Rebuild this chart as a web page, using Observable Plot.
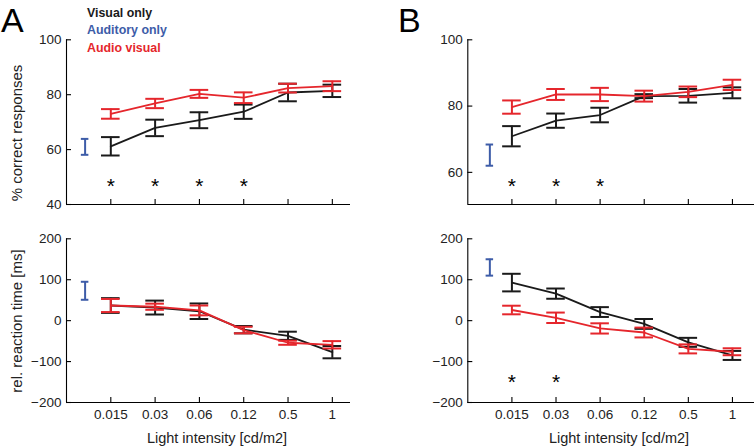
<!DOCTYPE html>
<html><head><meta charset="utf-8">
<script src="https://cdn.jsdelivr.net/npm/d3@7"></script>
<script src="https://cdn.jsdelivr.net/npm/@observablehq/plot@0.6"></script>
<style>
body{margin:0;background:#fff;}
#fig{position:relative;width:754px;height:448px;overflow:hidden;font-family:"Liberation Sans",Arial,Helvetica,sans-serif;background:#fff;}
.p{position:absolute;}
.t{position:absolute;white-space:nowrap;line-height:1;}
</style></head><body><div id="fig"></div>
<script>
// ---- data ----
const intensities = ["0.015", "0.03", "0.06", "0.12", "0.5", "1"];
const legendLabels = ["Visual only", "Auditory only", "Audio visual"];

// Panel A, % correct responses
const accA_visual = [61.2, 67.9, 70.7, 73.8, 80.8, 81.4];
const accA_visualErr = [3.35, 3.0, 2.9, 2.6, 3.2, 2.25];
const accA_av = [73.0, 76.8, 80.3, 78.9, 82.4, 83.1];
const accA_avErr = [1.75, 1.7, 1.45, 1.95, 1.6, 1.8];
const accA_aud = 61.0, accA_audErr = 2.9;
const accA_stars = ["0.015", "0.03", "0.06", "0.12"];

// Panel A, relative reaction time [ms]
const rtA_visual = [37, 32, 23, -22, -37, -77];
const rtA_visualErr = [18, 17, 19, 9, 10, 15];
const rtA_av = [37, 34, 25, -23, -54, -59];
const rtA_avErr = [16, 7.5, 12, 8, 5, 9];
const rtA_aud = 73, rtA_audErr = 22;

// Panel B, % correct responses
const accB_visual = [70.9, 75.6, 77.3, 83.0, 83.1, 84.0];
const accB_visualErr = [3.05, 2.15, 2.2, 0.6, 2.05, 1.65];
const accB_av = [79.7, 83.5, 83.5, 83.0, 84.3, 86.4];
const accB_avErr = [2.0, 1.65, 2.0, 1.65, 1.6, 1.55];
const accB_aud = 65.2, accB_audErr = 3.2;
const accB_stars = ["0.015", "0.03", "0.06"];

// Panel B, relative reaction time [ms]
const rtB_visual = [93, 66, 21, -8, -53, -85];
const rtB_visualErr = [21.5, 12.5, 12, 12, 11, 11];
const rtB_av = [26, 7, -19, -29, -69, -76];
const rtB_avErr = [10.5, 12.75, 12.5, 12, 11, 8.5];
const rtB_aud = 130, rtB_audErr = 20;
const rtB_stars = ["0.015", "0.03"];

const accTicksA = [40, 60, 80, 100];
const accTicksB = [60, 80, 100];
const rtTicks = [-200, -100, 0, 100, 200];

// ---- style ----
const C_VIS = "#1a1a1a", C_AUD = "#3d5ca8", C_AV = "#e5262c";
const FONT = '"Liberation Sans", Arial, Helvetica, sans-serif';

function rows(means, errs) {
  return means.map((m, k) => ({i: k + 1, m, lo: m - errs[k], hi: m + errs[k]}));
}
function errMarks(data, color, cap, sw) {
  return [
    Plot.ruleX(data, {x: "i", y1: "lo", y2: "hi", stroke: color, strokeWidth: sw}),
    Plot.ruleY(data, {x1: d => d.i - cap, x2: d => d.i + cap, y: "lo", stroke: color, strokeWidth: sw}),
    Plot.ruleY(data, {x1: d => d.i - cap, x2: d => d.i + cap, y: "hi", stroke: color, strokeWidth: sw})
  ];
}

function panel(o) {
  const innerW = o.width - o.mL - o.mR;
  const innerH = o.height - o.mT - o.mB;
  const vis = rows(o.vis, o.visErr);
  const av = rows(o.av, o.avErr);
  const aud = [{i: o.audX, m: o.aud, lo: o.aud - o.audErr, hi: o.aud + o.audErr}];
  const idx = intensities.map((_, k) => k + 1);
  const marks = [
    Plot.ruleX([0], {stroke: "#000", strokeWidth: 1.1}),
    Plot.ruleY([o.yDomain[0]], {stroke: "#000", strokeWidth: 1.1}),
    Plot.tickY(o.yTicks, {y: d => d, insetRight: innerW - 5, stroke: "#000", strokeWidth: 1.1}),
    Plot.tickX(idx, {x: d => d, insetTop: innerH - 5, stroke: "#000", strokeWidth: 1.1}),
    Plot.axisY({ticks: o.yTicks, tickSize: 0, tickPadding: 5, label: null, fill: "#222"}),
    ...errMarks(aud, C_AUD, 0.085, 2),
    ...errMarks(vis, C_VIS, 0.21, 2),
    Plot.line(vis, {x: "i", y: "m", stroke: C_VIS, strokeWidth: 1.8}),
    ...errMarks(av, C_AV, 0.21, 2),
    Plot.line(av, {x: "i", y: "m", stroke: C_AV, strokeWidth: 1.8})
  ];
  if (o.showX) {
    marks.push(Plot.axisX({ticks: idx, tickFormat: i => intensities[i - 1], tickSize: 0, tickPadding: 7, label: null, fill: "#222"}));
  }
  if (o.stars) {
    marks.push(Plot.text(o.stars, {
      x: s => intensities.indexOf(s) + 1, y: () => o.starY, text: () => "*",
      fontSize: 21, fill: "#000", dy: 5, textAnchor: "middle"
    }));
  }
  const chart = Plot.plot({
    width: o.width, height: o.height,
    marginLeft: o.mL, marginRight: o.mR, marginTop: o.mT, marginBottom: o.mB,
    x: {type: "linear", domain: [0, o.xMax], axis: o.showX ? undefined : null},
    y: {type: "linear", domain: o.yDomain},
    style: {fontFamily: FONT, fontSize: "13.5px", background: "transparent", overflow: "visible"},
    marks
  });
  const wrap = document.createElement("div");
  wrap.className = "p";
  wrap.style.left = o.left + "px";
  wrap.style.top = o.top + "px";
  wrap.appendChild(chart);
  document.getElementById("fig").appendChild(wrap);
}

// Panel A
panel({left: 0, top: 0, width: 360, height: 215, mL: 66, mR: 10, mT: 39.3, mB: 11, xMax: 6.41,
  yDomain: [40, 100], yTicks: accTicksA, vis: accA_visual, visErr: accA_visualErr,
  av: accA_av, avErr: accA_avErr, aud: accA_aud, audErr: accA_audErr, audX: 0.42,
  stars: accA_stars, starY: 48.4, showX: false});
panel({left: 0, top: 220, width: 360, height: 228, mL: 66, mR: 10, mT: 18.3, mB: 46, xMax: 6.41,
  yDomain: [-200, 200], yTicks: rtTicks, vis: rtA_visual, visErr: rtA_visualErr,
  av: rtA_av, avErr: rtA_avErr, aud: rtA_aud, audErr: rtA_audErr, audX: 0.42,
  stars: null, showX: true});
// Panel B
panel({left: 380, top: 0, width: 374, height: 215, mL: 87.3, mR: 0, mT: 39.3, mB: 11, xMax: 6.5,
  yDomain: [50.3, 100], yTicks: accTicksB, vis: accB_visual, visErr: accB_visualErr,
  av: accB_av, avErr: accB_avErr, aud: accB_aud, audErr: accB_audErr, audX: 0.5,
  stars: accB_stars, starY: 57.3, showX: false});
panel({left: 380, top: 220, width: 374, height: 228, mL: 87.3, mR: 0, mT: 18.3, mB: 46, xMax: 6.5,
  yDomain: [-200, 200], yTicks: rtTicks, vis: rtB_visual, visErr: rtB_visualErr,
  av: rtB_av, avErr: rtB_avErr, aud: rtB_aud, audErr: rtB_audErr, audX: 0.5,
  stars: rtB_stars, starY: -139, showX: true});

// ---- text ----
const fig = document.getElementById("fig");
function addText(txt, opts) {
  const d = document.createElement("div");
  d.className = "t";
  d.textContent = txt;
  Object.assign(d.style, opts);
  fig.appendChild(d);
  return d;
}
// baseline -> top: top = baseline - 0.8465 * fontSize
function base(b, f) { return (b - 0.8465 * f) + "px"; }

addText("A", {left: "1px", top: base(31.7, 34), fontSize: "34px", color: "#000"});
addText("B", {left: "398px", top: base(31.7, 34), fontSize: "34px", color: "#000"});
const legColors = [C_VIS, C_AUD, C_AV];
const legBase = [17.4, 34.7, 52];
legendLabels.forEach((s, k) => addText(s, {left: "87px", top: base(legBase[k], 12.4), fontSize: "12.4px", fontWeight: "bold", color: legColors[k]}));

function yLabel(txt, cx, cy) {
  addText(txt, {left: cx + "px", top: cy + "px", fontSize: "15px", color: "#222",
    transform: "translate(-50%,-50%) rotate(-90deg)"});
}
yLabel("% correct responses", 16, 133);
yLabel("rel. reaction time [ms]", 16, 321);
function xLabel(txt, cx) {
  addText(txt, {left: cx + "px", top: base(443.7, 14.5), fontSize: "14.5px", color: "#222", transform: "translateX(-50%)"});
}
xLabel("Light intensity [cd/m2]", 217);
xLabel("Light intensity [cd/m2]", 619);
</script></body></html>
